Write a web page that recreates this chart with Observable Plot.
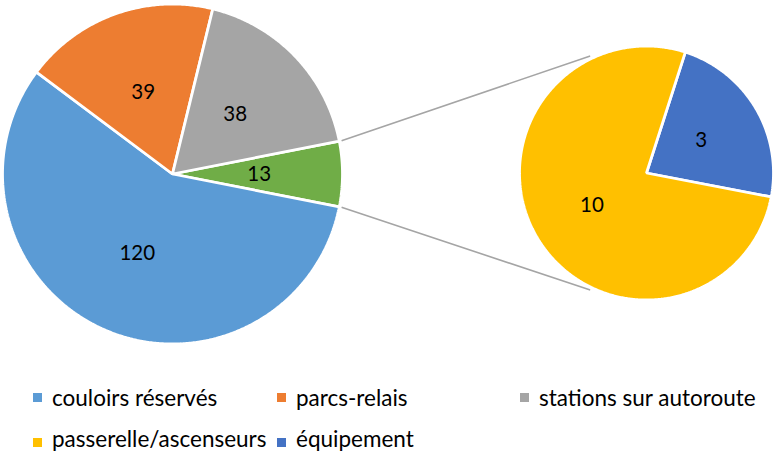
<!DOCTYPE html>
<html><head><meta charset="utf-8">
<script src="https://cdn.jsdelivr.net/npm/d3@7"></script>
<script src="https://cdn.jsdelivr.net/npm/@observablehq/plot@0.6"></script>
<style>
html,body{margin:0;padding:0;background:#fff;}
#wrap{position:relative;width:777px;height:454px;font-family:Lato,"Liberation Sans",sans-serif;}
#wrap svg{display:block;}
.mk{position:absolute;width:9px;height:9px;}
.tx{position:absolute;white-space:nowrap;color:#000;font-size:22.5px;line-height:22.5px;}
</style></head><body><div id="wrap"></div>
<script>
// ---- data ----
const mainCategories = ["couloirs réservés", "parcs-relais", "stations sur autoroute"];
const mainValues = [120, 39, 38];
const subCategories = ["passerelle/ascenseurs", "équipement"];
const subValues = [10, 3];
const mainColors = ["#5B9BD5", "#ED7D31", "#A5A5A5"];
const otherColor = "#70AD47";
const subColors = ["#FFC000", "#4472C4"];

// ---- layout ----
const W = 777, H = 370;
const C1 = [172, 173.5], R1 = 170;
const C2 = [646, 172.5], R2 = 127;
const subStart = 17.8 * Math.PI / 180;
const connAngle = 26 * Math.PI / 180;

const otherValue = d3.sum(subValues);
const mainData = [{name: "autres", value: otherValue, color: otherColor}]
  .concat(mainCategories.map((c, i) => ({name: c, value: mainValues[i], color: mainColors[i]})));
const total = d3.sum(mainData, d => d.value);
const half = otherValue / total * Math.PI;
const pieMain = d3.pie().sort(null).value(d => d.value)
  .startAngle(Math.PI / 2 - half).endAngle(Math.PI / 2 - half + 2 * Math.PI)(mainData);

// second pie: équipement first (clockwise from subStart), then passerelle
const subData = [{name: subCategories[1], value: subValues[1], color: subColors[1]},
                 {name: subCategories[0], value: subValues[0], color: subColors[0]}];
const pieSub = d3.pie().sort(null).value(d => d.value)
  .startAngle(subStart).endAngle(subStart + 2 * Math.PI)(subData);

const pt = (c, r, a) => [c[0] + r * Math.sin(a), c[1] - r * Math.cos(a)];
function sector(c, r, a0, a1, props) {
  const n = Math.max(4, Math.ceil((a1 - a0) / (Math.PI / 360)));
  const ring = [c];
  for (let i = 0; i <= n; i++) ring.push(pt(c, r, a0 + (a1 - a0) * i / n));
  ring.push(c);
  return {type: "Feature", properties: props, geometry: {type: "Polygon", coordinates: [ring.reverse()]}};
}
const slices = [];
const labels = [];
for (const s of pieMain) {
  slices.push(sector(C1, R1, s.startAngle, s.endAngle, {color: s.data.color}));
  const m = (s.startAngle + s.endAngle) / 2, p = pt(C1, R1 * 0.51, m);
  labels.push({x: p[0], y: p[1], label: String(s.data.value)});
}
for (const s of pieSub) {
  slices.push(sector(C2, R2, s.startAngle, s.endAngle, {color: s.data.color}));
  const m = (s.startAngle + s.endAngle) / 2, p = pt(C2, R2 * 0.5, m);
  labels.push({x: p[0], y: p[1], label: String(s.data.value)});
}
const g = pieMain[0];
const connectors = [
  {type: "LineString", coordinates: [pt(C1, R1 + 3, g.startAngle), pt(C2, R2 + 3, -connAngle)]},
  {type: "LineString", coordinates: [pt(C1, R1 + 3, g.endAngle), pt(C2, R2 + 3, Math.PI + connAngle)]}
];

const chart = Plot.plot({
  width: W, height: H, margin: 0,
  projection: {type: "identity"},
  color: {type: "identity"},
  style: {fontFamily: "Lato, 'Liberation Sans', sans-serif", background: "white"},
  marks: [
    Plot.geo(connectors, {stroke: "#A5A5A5", strokeWidth: 1.6, fill: "none"}),
    Plot.geo(slices, {fill: d => d.properties.color, stroke: "white", strokeWidth: 2.8, strokeLinejoin: "miter"}),
    Plot.text(labels, {x: "x", y: "y", text: "label", fontSize: 20.5, fill: "black"})
  ]
});
const wrap = document.getElementById("wrap");
wrap.appendChild(chart);

// ---- legend ----
const legendLabels = [...mainCategories, ...subCategories];
const legendColors = [...mainColors, ...subColors];
const colX = [33, 277, 520], markY = [393, 438], textY = [386.5, 428];
legendLabels.forEach((t, i) => {
  const c = i % 3, r = Math.floor(i / 3);
  const m = document.createElement("div");
  m.className = "mk";
  m.style.left = colX[c] + "px";
  m.style.top = markY[r] + "px";
  m.style.background = legendColors[i];
  wrap.appendChild(m);
  const d = document.createElement("div");
  d.className = "tx";
  d.style.left = (colX[c] + 19) + "px";
  d.style.top = textY[r] + "px";
  d.textContent = t;
  wrap.appendChild(d);
});
</script></body></html>
